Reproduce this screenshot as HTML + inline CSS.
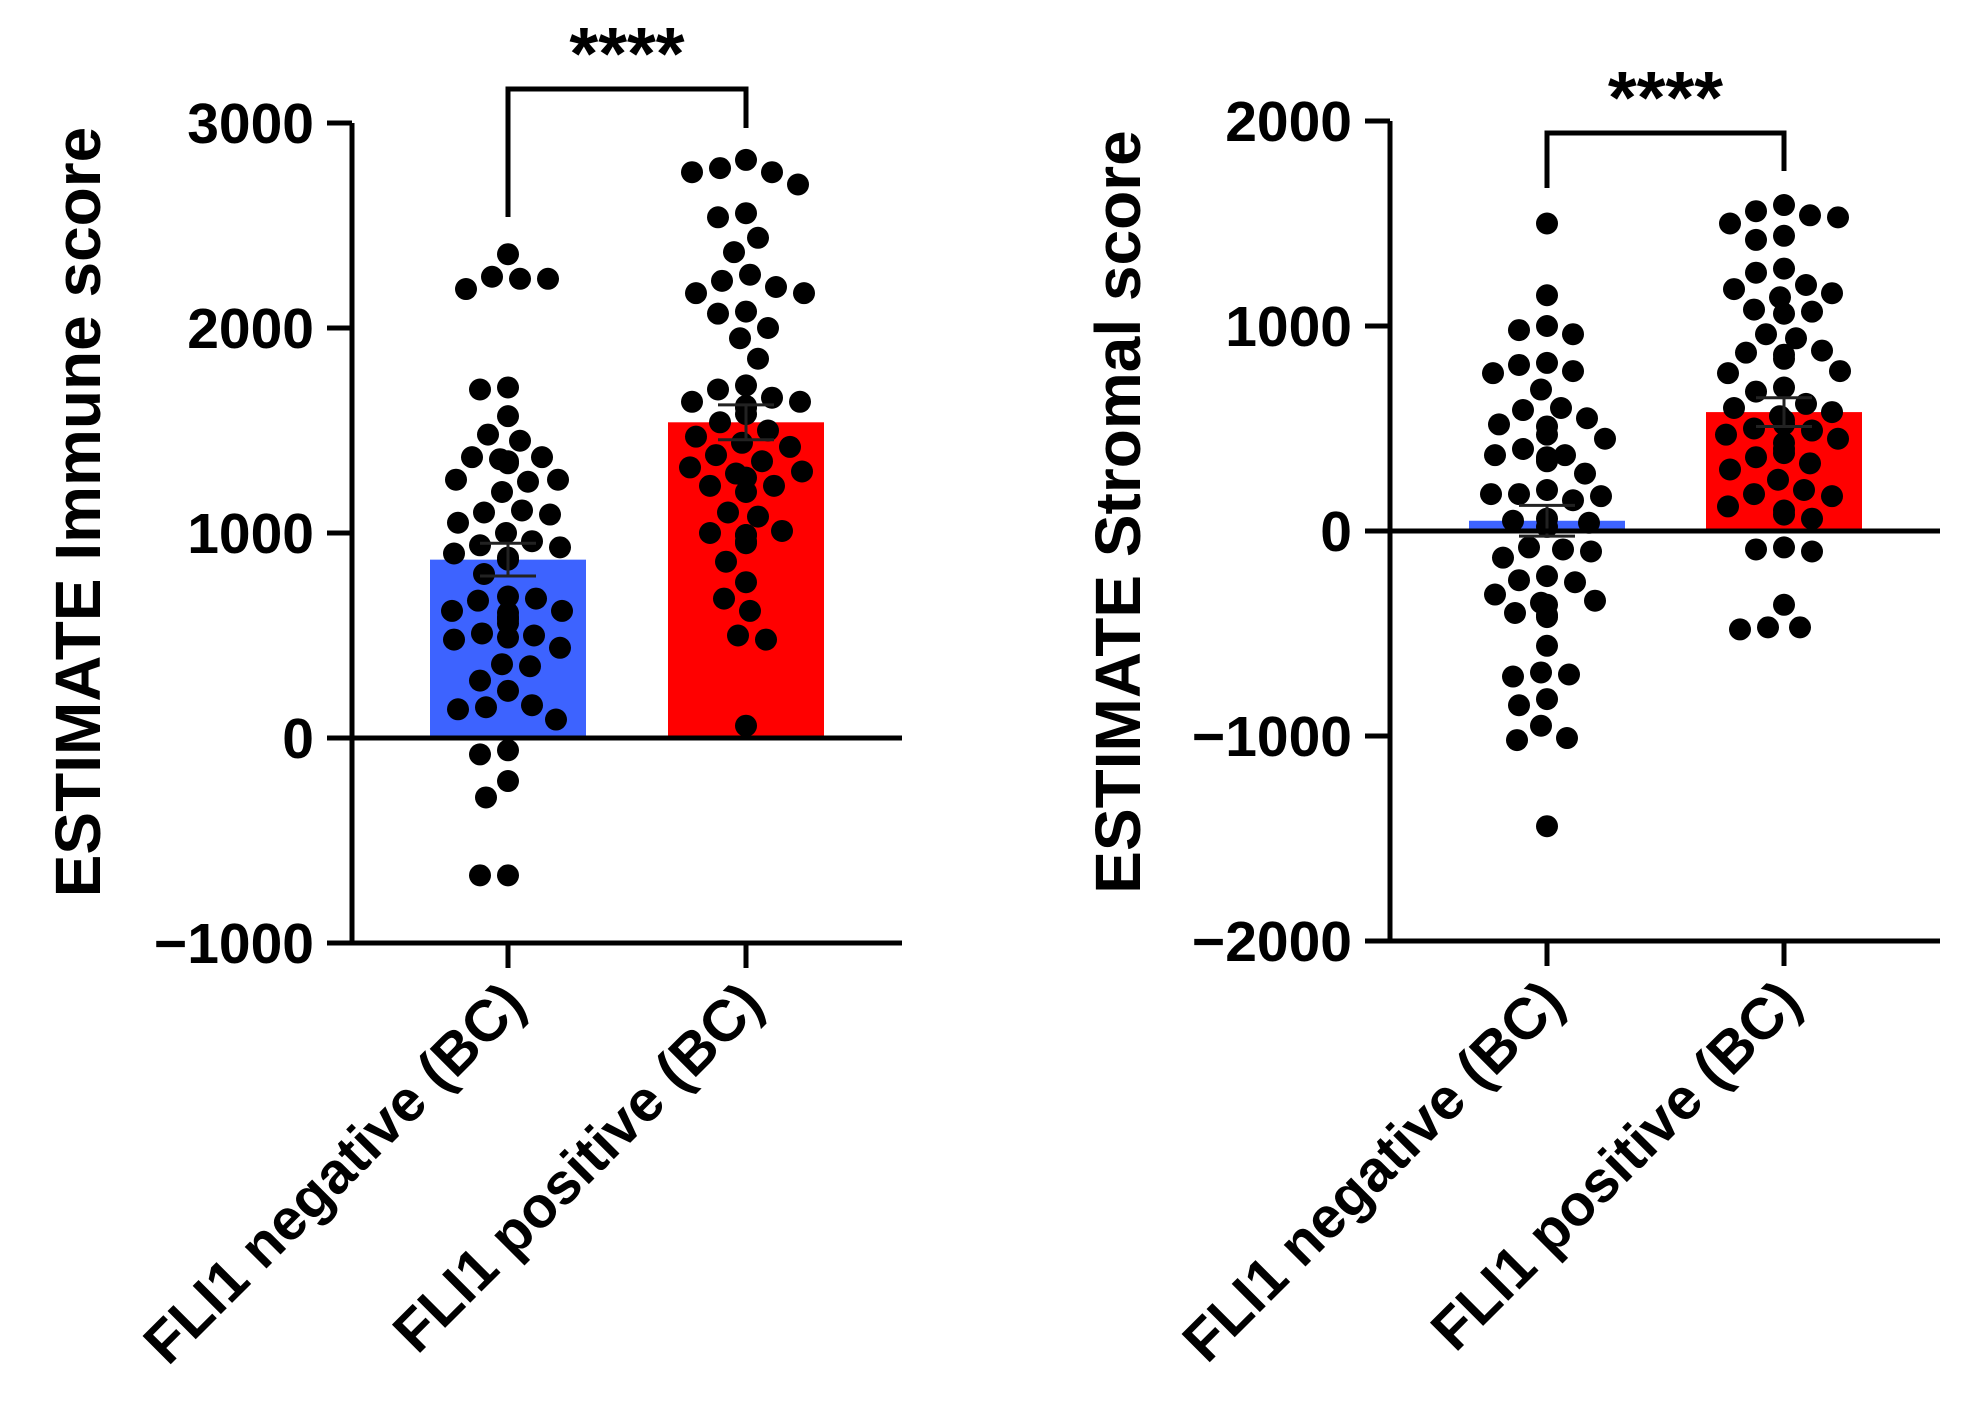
<!DOCTYPE html>
<html><head><meta charset="utf-8"><style>
html,body{margin:0;padding:0;background:#fff;}
svg{display:block;font-family:"Liberation Sans",Arial,sans-serif;font-weight:bold;}
</style></head><body>
<svg id="fig" width="1980" height="1428" viewBox="0 0 1980 1428"></svg>
<script>
const categories = ["FLI1 negative (BC)", "FLI1 positive (BC)"];
const immuneTicks = [3000, 2000, 1000, 0, -1000];
const stromalTicks = [2000, 1000, 0, -1000, -2000];
const immuneMeans = [870, 1540];
const immuneSem = [80, 85];
const stromalMeans = [50, 580];
const stromalSem = [75, 70];
const immuneNeg = [2360,2240,2250,2240,2190,1710,1700,1570,1480,1450,1370,1370,1360,1350,1340,1260,1260,1250,1200,1110,1100,1090,1050,1000,960,940,930,900,880,870,800,680,690,670,620,620,610,590,580,560,510,490,500,480,440,360,350,280,230,160,150,140,90,-60,-80,-210,-290,-670,-670];
const immunePos = [2820,2780,2760,2760,2700,2560,2540,2440,2370,2260,2230,2200,2170,2170,2070,2080,2000,1950,1850,1720,1700,1660,1640,1640,1620,1610,1580,1540,1500,1470,1440,1420,1380,1350,1320,1300,1290,1270,1230,1230,1200,1100,1080,1010,1000,990,990,960,950,860,760,680,620,500,480,60];
const stromalNeg = [1500,1150,1000,980,960,820,780,770,810,690,600,590,550,510,520,470,450,400,370,370,360,350,340,280,200,180,180,170,150,60,50,40,20,-100,-80,-90,-130,-220,-240,-250,-310,-350,-340,-360,-400,-420,-410,-560,-700,-710,-690,-820,-850,-950,-1010,-1020,-1440];
const stromalPos = [1590,1560,1540,1530,1500,1420,1440,1280,1260,1200,1180,1160,1140,1080,1070,1060,960,940,880,870,860,840,780,770,700,680,620,600,580,560,540,520,500,490,470,450,430,400,380,360,330,300,250,200,180,170,120,100,80,60,-80,-90,-100,-360,-470,-480,-470];

const NS = "http://www.w3.org/2000/svg";
const svg = document.getElementById("fig");
function mk(tag, attrs, parent) {
  const e = document.createElementNS(NS, tag);
  for (const k in attrs) e.setAttribute(k, attrs[k]);
  (parent || svg).appendChild(e);
  return e;
}

function drawPanel(cfg) {
  const g = mk("g", {});
  
  
  const y = v => cfg.y0 - (v / 1000) * 205;
  const xs = [cfg.axisX + cfg.c1, cfg.axisX + cfg.c2];
  const colors = ["#3d63ff", "#ff0000"];
  const bw = 156;
  cfg.means.forEach((m, i) => {
    const r = mk("rect", {x: xs[i] - bw / 2, y: Math.min(y(m), y(0)), width: bw, height: Math.abs(y(0) - y(m)), fill: colors[i]}, g);
    
    
  });
  const rad = 11;
  [cfg.neg, cfg.pos].forEach((vals, i) => {
    const placed = [];
    const sorted = vals.slice().sort((a, b) => b - a);
    sorted.forEach(v => {
      const py = y(v);
      let best = 0;
      for (let k = 0; k < 60; k++) {
        const off = (k % 2 === 0 ? 1 : -1) * Math.ceil(k / 2) * 2;
        const ok = placed.every(p => Math.hypot(p[0] - off, p[1] - py) >= 2 * rad + 5);
        if (ok) { best = off; break; }
      }
      placed.push([best, py]);
      const c = mk("circle", {cx: xs[i] + best, cy: py, r: rad, fill: "#000"}, g);
      
      
    });
  });
  cfg.means.forEach((m, i) => {
    const s = cfg.sem[i];
    const e = mk("path", {d: `M${xs[i]} ${y(m - s)}V${y(m + s)}M${xs[i] - 28} ${y(m + s)}H${xs[i] + 28}M${xs[i] - 28} ${y(m - s)}H${xs[i] + 28}`, stroke: "#222", "stroke-width": 3, fill: "none"}, g);
    
    
  });
  const z = mk("line", {x1: cfg.axisX, x2: cfg.axisEnd, y1: y(0), y2: y(0), stroke: "#000", "stroke-width": 5}, g);
  
  
  const ax = mk("path", {d: `M${cfg.axisX} ${y(cfg.ticks[0])}V${y(cfg.ticks[cfg.ticks.length - 1])}H${cfg.axisEnd}`, stroke: "#000", "stroke-width": 5, fill: "none"}, g);
  
  
  cfg.ticks.forEach(t => {
    const tk = mk("line", {x1: cfg.axisX - 25, x2: cfg.axisX, y1: y(t), y2: y(t), stroke: "#000", "stroke-width": 5}, g);
    
    
    const tl = mk("text", {x: cfg.axisX - 38, y: y(t) + 20, "text-anchor": "end", "font-size": 57}, g);
    tl.textContent = t < 0 ? "\u2212" + Math.abs(t) : String(t);
    
    
  });
  const yb = y(cfg.ticks[cfg.ticks.length - 1]);
  xs.forEach((x, i) => {
    const tk = mk("line", {x1: x, x2: x, y1: yb, y2: yb + 25, stroke: "#000", "stroke-width": 5}, g);
    
    
    const tl = mk("text", {x: 0, y: 0, "text-anchor": "end", "font-size": 58, transform: `translate(${x + 20},${yb + 64}) rotate(-45)`}, g);
    tl.textContent = categories[i];
    
    
  });
  const yt = mk("text", {x: 0, y: 0, "text-anchor": "middle", "font-size": 64, transform: `translate(${cfg.titleX},${cfg.titleY}) rotate(-90)`}, g);
  yt.textContent = cfg.title;
  
  
  const br = mk("path", {d: `M${xs[0]} ${cfg.brL}V${cfg.brTop}H${xs[1]}V${cfg.brR}`, stroke: "#000", "stroke-width": 5, fill: "none"}, g);
  
  
  const st = mk("text", {x: (xs[0] + xs[1]) / 2, y: cfg.brTop - 10, "text-anchor": "middle", "font-size": 74}, g);
  st.textContent = "****";
  
  
}

drawPanel({name: "immune-panel", axisX: 352, axisEnd: 902, y0: 738, c1: 156, c2: 394,
  ticks: immuneTicks, means: immuneMeans, sem: immuneSem, neg: immuneNeg, pos: immunePos,
  title: "ESTIMATE Immune score", titleX: 100, titleY: 512, brTop: 89, brL: 217, brR: 128});
drawPanel({name: "stromal-panel", axisX: 1390, axisEnd: 1940, y0: 531, c1: 157, c2: 394,
  ticks: stromalTicks, means: stromalMeans, sem: stromalSem, neg: stromalNeg, pos: stromalPos,
  title: "ESTIMATE Stromal score", titleX: 1140, titleY: 512, brTop: 133, brL: 188, brR: 171});
</script>
</body></html>
